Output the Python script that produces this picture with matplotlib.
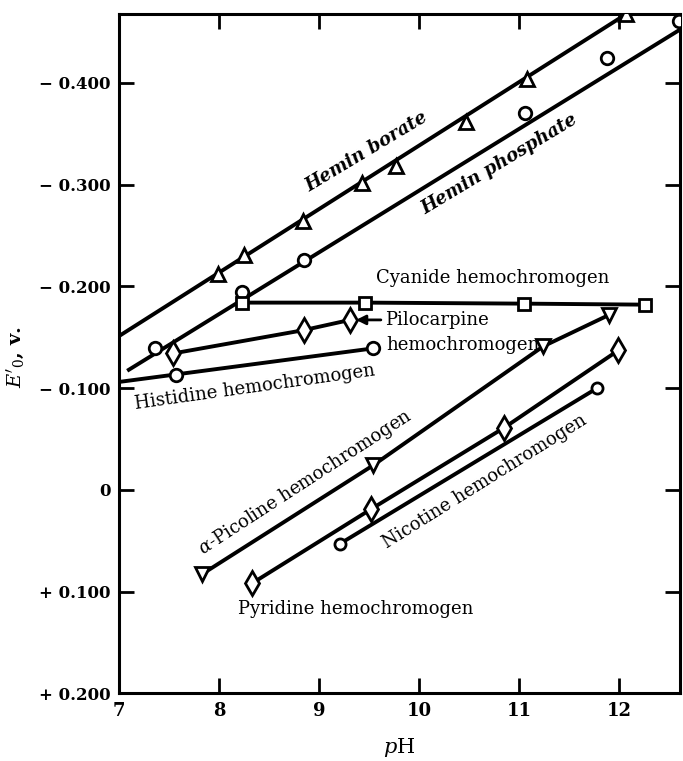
import matplotlib
matplotlib.use("Agg")
import matplotlib.pyplot as plt

# Redox potentials of hemin / hemochromogens vs pH
borate_ph = [7.99, 8.25, 8.84, 9.43, 9.77, 10.47, 11.08, 12.07]
borate_e = [-0.212, -0.231, -0.264, -0.302, -0.318, -0.362, -0.404, -0.468]
borate_fit_ph = [7.0, 12.3]
borate_fit_e = [-0.151, -0.482]

phosphate_ph = [7.36, 8.23, 8.85, 11.06, 11.88, 12.6]
phosphate_e = [-0.139, -0.194, -0.226, -0.370, -0.424, -0.461]
phosphate_fit_ph = [7.1, 12.7]
phosphate_fit_e = [-0.118, -0.458]

cyanide_ph = [8.23, 9.46, 11.05, 12.26]
cyanide_e = [-0.184, -0.184, -0.183, -0.182]

pilocarpine_ph = [7.54, 8.85, 9.31]
pilocarpine_e = [-0.134, -0.157, -0.167]

histidine_ph = [7.57, 9.54]
histidine_e = [-0.113, -0.139]
histidine_fit_ph = [7.0, 9.54]
histidine_fit_e = [-0.106, -0.139]

picoline_ph = [7.83, 9.54, 11.24, 11.90]
picoline_e = [0.083, -0.024, -0.141, -0.172]

pyridine_ph = [8.33, 9.52, 10.85, 11.99]
pyridine_e = [0.092, 0.019, -0.061, -0.137]

nicotine_ph = [9.21, 11.78]
nicotine_e = [0.053, -0.100]

x_ticks = [7, 8, 9, 10, 11, 12]
y_ticks = [-0.4, -0.3, -0.2, -0.1, 0.0, 0.1, 0.2]
y_tick_labels = ["\u2212 0.400", "\u2212 0.300", "\u2212 0.200", "\u2212 0.100", "0", "+ 0.100", "+ 0.200"]

plt.rcParams["font.family"] = ["DejaVu Serif"]
plt.rcParams["mathtext.fontset"] = "dejavuserif"

fig = plt.figure(figsize=(6.83, 7.61), dpi=100)
ax = fig.add_axes([0.174, 0.089, 0.822, 0.893])

lw = 2.8
mk = dict(color="black", markerfacecolor="white", markeredgecolor="black",
          markeredgewidth=2.0, linewidth=lw)

# fitted lines drawn first, points on top
ax.plot(borate_fit_ph, borate_fit_e, color="black", linewidth=lw, zorder=2)
ax.plot(borate_ph, borate_e, linestyle="none", marker="^", markersize=10.5, **mk, zorder=3)

ax.plot(phosphate_fit_ph, phosphate_fit_e, color="black", linewidth=lw, zorder=2)
ax.plot(phosphate_ph, phosphate_e, linestyle="none", marker="o", markersize=9, **mk, zorder=3)

ax.plot(cyanide_ph, cyanide_e, marker="s", markersize=8.5, **mk, zorder=3)
ax.plot(pilocarpine_ph, pilocarpine_e, marker="d", markersize=12.5, **mk, zorder=3)

ax.plot(histidine_fit_ph, histidine_fit_e, color="black", linewidth=lw, zorder=2)
ax.plot(histidine_ph, histidine_e, linestyle="none", marker="o", markersize=9, **mk, zorder=3)

ax.plot(picoline_ph, picoline_e, marker="v", markersize=10.5, **mk, zorder=3)
ax.plot(pyridine_ph, pyridine_e, marker="d", markersize=12.5, **mk, zorder=3)
ax.plot(nicotine_ph, nicotine_e, marker="o", markersize=8, **mk, zorder=3)

fs = 13
ax.text(9.475, -0.332, "Hemin borate", rotation=31, fontsize=fs, style="italic",
        fontweight="bold", ha="center", va="center", rotation_mode="anchor")
ax.text(10.80, -0.320, "Hemin phosphate", rotation=31, fontsize=fs, style="italic",
        fontweight="bold", ha="center", va="center", rotation_mode="anchor")
ax.text(10.74, -0.2085, "Cyanide hemochromogen", fontsize=fs, ha="center", va="center")
ax.annotate("Pilocarpine", xy=(9.37, -0.167), xytext=(9.66, -0.167), fontsize=fs,
            ha="left", va="center",
            arrowprops=dict(arrowstyle="-|>", color="black", lw=2, mutation_scale=14,
                            shrinkA=1, shrinkB=0))
ax.text(9.67, -0.142, "hemochromogen", fontsize=fs, ha="left", va="center")
ax.text(8.36, -0.101, "Histidine hemochromogen", rotation=8, fontsize=fs,
        ha="center", va="center", rotation_mode="anchor")
ax.text(8.86, -0.007, r"$\alpha$-Picoline hemochromogen", rotation=33, fontsize=fs,
        ha="center", va="center", rotation_mode="anchor")
ax.text(10.66, -0.008, "Nicotine hemochromogen", rotation=32, fontsize=fs,
        ha="center", va="center", rotation_mode="anchor")
ax.text(9.37, 0.117, "Pyridine hemochromogen", fontsize=fs, ha="center", va="center")

ax.set_xlim(7, 12.61)
ax.set_ylim(0.2, -0.468)
ax.set_xticks(x_ticks)
ax.set_xticklabels([str(t) for t in x_ticks], fontweight="bold", fontsize=13)
ax.set_yticks(y_ticks)
ax.set_yticklabels(y_tick_labels, fontweight="bold", fontsize=12)
ax.tick_params(direction="in", length=11, width=2, top=True, right=True, pad=6)

for s in ax.spines.values():
    s.set_linewidth(2.2)

ax.set_xlabel(r"$p$H", fontsize=15, labelpad=12)
ax.set_ylabel(r"$E'_0$, v.", fontsize=14, fontweight="bold")
ax.yaxis.set_label_coords(-0.165, 0.494)

fig.savefig("out.png", dpi=100)
